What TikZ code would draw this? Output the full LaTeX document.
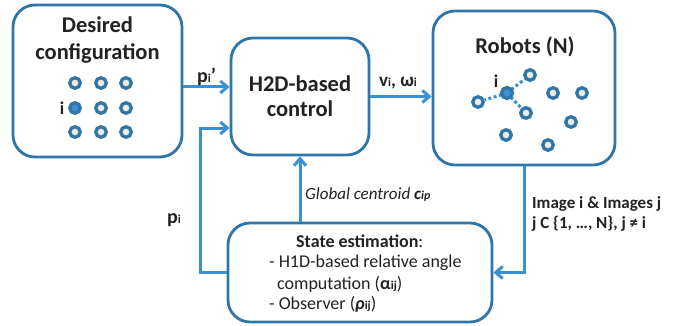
\documentclass[tikz,border=0pt]{standalone}
\usepackage{fontspec}
\setmainfont{Carlito}
\usetikzlibrary{arrows.meta,calc}
\definecolor{boxblue}{HTML}{2E75A8}
\definecolor{arrblue}{HTML}{3A90D0}
\definecolor{dotfill}{HTML}{ECECE4}
\definecolor{txt}{HTML}{222222}
\newcommand{\ssub}[1]{{\fontsize{12}{12}\selectfont #1}}
\begin{document}
\begin{tikzpicture}[x=1pt,y=-1pt,
  box/.style={draw=boxblue,line width=2.8pt,rounded corners=22pt,fill=white,inner sep=0pt},
  arr/.style={draw=arrblue,line width=3pt,-{Straight Barb[length=7pt,width=12pt]}},
  dotn/.style={circle,draw=boxblue,line width=3.3pt,fill=dotfill,minimum size=10.5pt,inner sep=0pt},
  doti/.style={dotn,fill=arrblue},
  link/.style={draw=arrblue,line width=3pt,dash pattern=on 3pt off 2.5pt},
  title/.style={font=\fontsize{22.5}{27}\selectfont\bfseries,text=txt,anchor=base,inner sep=0pt},
  lbl/.style={font=\fontsize{17}{20}\selectfont,text=txt,anchor=base west,inner sep=0pt},
  stl/.style={lbl,font=\fontsize{18}{21}\selectfont},
  biglbl/.style={font=\fontsize{20}{24}\selectfont\bfseries,text=txt,anchor=base west,inner sep=0pt},
]
\useasboundingbox (0,0) rectangle (690,326);

% boxes
\node[box,minimum width=169pt,minimum height=152pt] (desired) at (97.5,81) {};
\node[box,minimum width=138pt,minimum height=117pt] (h2d) at (300,96.5) {};
\node[box,minimum width=182pt,minimum height=154pt] (robots) at (524,88) {};
\node[box,minimum width=264pt,minimum height=99pt] (state) at (360,272.5) {};

% titles
\node[title] (t1a) at (97.5,33) {Desired};
\node[title] (t1b) at (97.5,60) {configuration};
\node[title] (t2a) at (300,92) {H2D-based};
\node[title] (t2b) at (300,117) {control};
\node[title] (t3) at (525,54) {Robots (N)};

% desired configuration dots
\node[dotn] (d11) at (75,83) {};
\node[dotn] (d12) at (101,83) {};
\node[dotn] (d13) at (126,83) {};
\node[doti] (d21) at (75,108) {};
\node[dotn] (d22) at (101,108) {};
\node[dotn] (d23) at (126,108) {};
\node[dotn] (d31) at (75,132) {};
\node[dotn] (d32) at (101,132) {};
\node[dotn] (d33) at (126,132) {};
\node[font=\fontsize{18}{20}\selectfont\bfseries,text=txt,anchor=base,inner sep=0pt] (di) at (62,115) {i};

% robots
\coordinate (r0c) at (507,93);
\node[dotn] (r1) at (530,75) {};
\node[dotn] (r2) at (478,102) {};
\node[dotn] (r3) at (526,113) {};
\draw[link] (r0c) -- (r1) (r0c) -- (r2) (r0c) -- (r3);
\node[doti,minimum size=11pt] (r0) at (r0c) {};
\node[dotn] (r4) at (553,93) {};
\node[dotn] (r5) at (582,93) {};
\node[dotn] (r6) at (571,122) {};
\node[dotn] (r7) at (506,135) {};
\node[dotn] (r8) at (548,145) {};
\node[font=\fontsize{18}{20}\selectfont\bfseries,text=txt,anchor=base,inner sep=0pt] (ri) at (496,88) {i};

% connectors
\draw[arr] ([yshift=-6pt]desired.east) coordinate (a1) -- (a1 -| h2d.west);
\coordinate (fb) at (200,128);
\draw[arr] (state.west) -| (fb) -- (fb -| h2d.west);
\draw[arr] (h2d.east) -- (h2d.east -| robots.west);
\draw[arr] (h2d.south |- state.north) -- (h2d.south);
\draw[arr] (robots.south) |- (state.east);

% labels
\node[biglbl] (lpp) at (197,83) {p\ssub{i}’};
\node[biglbl,font=\fontsize{19}{22}\selectfont\bfseries] (lvw) at (379,87) {v\ssub{i}, ω\ssub{i}};
\node[biglbl] (lp) at (167,223) {p\ssub{i}};
\node[lbl,font=\fontsize{17}{20}\selectfont\itshape] (lgc) at (305,199) {Global centroid \textbf{c\ssub{ip}}};
\node[lbl,font=\fontsize{17}{20}\selectfont\bfseries] (lim1) at (532,208) {Image i \& Images j};
\node[lbl,font=\fontsize{17}{20}\selectfont\bfseries] (lim2) at (532,228) {j C \{1, …, N\}, j ≠ i};

% state estimation text
\node[stl] (s1) at (296,247) {\textbf{State estimation}:};
\node[stl] (s2) at (269,267) {- H1D-based relative angle};
\node[stl] (s3) at (277,289) {computation (\textbf{α}\ssub{\textbf{ij}})};
\node[stl] (s4) at (269,309) {- Observer (\textbf{\textit{ρ}}\ssub{\textbf{ij}})};
\end{tikzpicture}
\end{document}
